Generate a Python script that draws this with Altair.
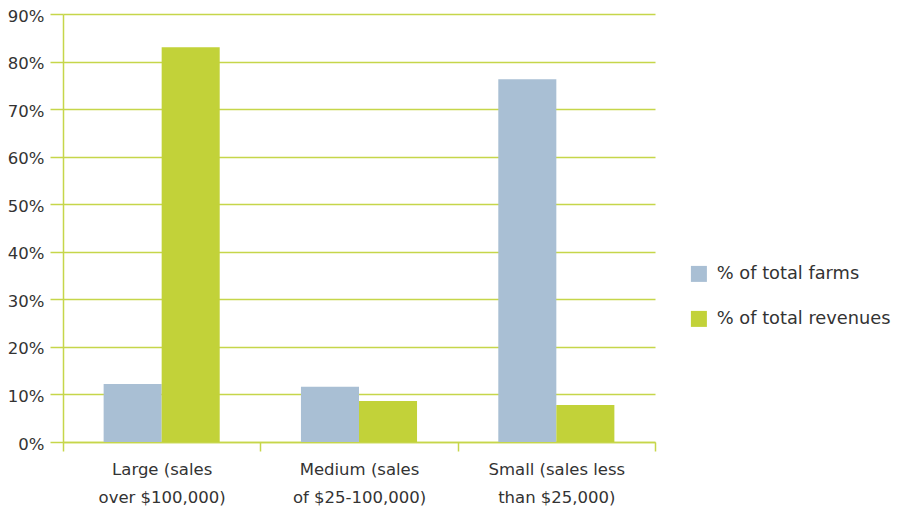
import altair as alt
import pandas as pd

categories = ["Large (sales|over $100,000)", "Medium (sales|of $25-100,000)", "Small (sales less|than $25,000)"]
series = ["% of total farms", "% of total revenues"]
farms = [12.2, 11.6, 76.3]
revenues = [83.0, 8.6, 7.8]
y_ticks = [0, 10, 20, 30, 40, 50, 60, 70, 80, 90]

rows = []
for c, f, r in zip(categories, farms, revenues):
    rows.append({"category": c, "series": series[0], "value": f})
    rows.append({"category": c, "series": series[1], "value": r})
df = pd.DataFrame(rows)

GRID = "#C6D64A"
TEXT = "#333333"
FONT = "DejaVu Sans"

chart = alt.Chart(df).mark_bar().encode(
    x=alt.X("category:N", sort=categories, title=None,
            scale=alt.Scale(paddingInner=0, paddingOuter=0),
            axis=alt.Axis(labelExpr="split(datum.label, '|')", labelAngle=0,
                          tickBand="extent", ticks=True, tickSize=9, tickColor=GRID,
                          tickWidth=1.5, domainColor=GRID, domainWidth=1.5,
                          labelPadding=10, labelLineHeight=28, labelFontSize=16.5,
                          labelColor=TEXT, labelFont=FONT, grid=False)),
    xOffset=alt.XOffset("series:N", sort=series,
                        scale=alt.Scale(paddingOuter=0.7, paddingInner=0)),
    y=alt.Y("value:Q", title=None,
            scale=alt.Scale(domain=[0, 90], nice=False),
            axis=alt.Axis(values=y_ticks, labelExpr="datum.value + '%'",
                          grid=True, gridColor=GRID, gridWidth=1.5,
                          tickColor=GRID, tickSize=13, tickWidth=1.5,
                          domainColor=GRID, domainWidth=1.5,
                          labelPadding=6, labelFontSize=16.5, labelColor=TEXT,
                          labelFont=FONT, labelBaseline="alphabetic", labelOffset=7)),
    color=alt.Color("series:N", sort=series,
                    scale=alt.Scale(domain=series, range=["#A9BFD4", "#C2D239"]),
                    legend=alt.Legend(title=None, orient="none", legendX=627, legendY=251,
                                      symbolType="square", symbolSize=256,
                                      symbolStrokeWidth=0, labelFontSize=17.8,
                                      labelColor=TEXT, labelFont=FONT, labelLimit=400,
                                      rowPadding=26, labelOffset=9)),
).properties(
    width=592, height=428,
    autosize=alt.AutoSizeParams(type="none"),
    padding={"left": 55, "top": 6, "right": 240, "bottom": 65},
).configure_view(stroke=None)

chart.save("out.html", embed_options={"renderer": "svg", "actions": False})
